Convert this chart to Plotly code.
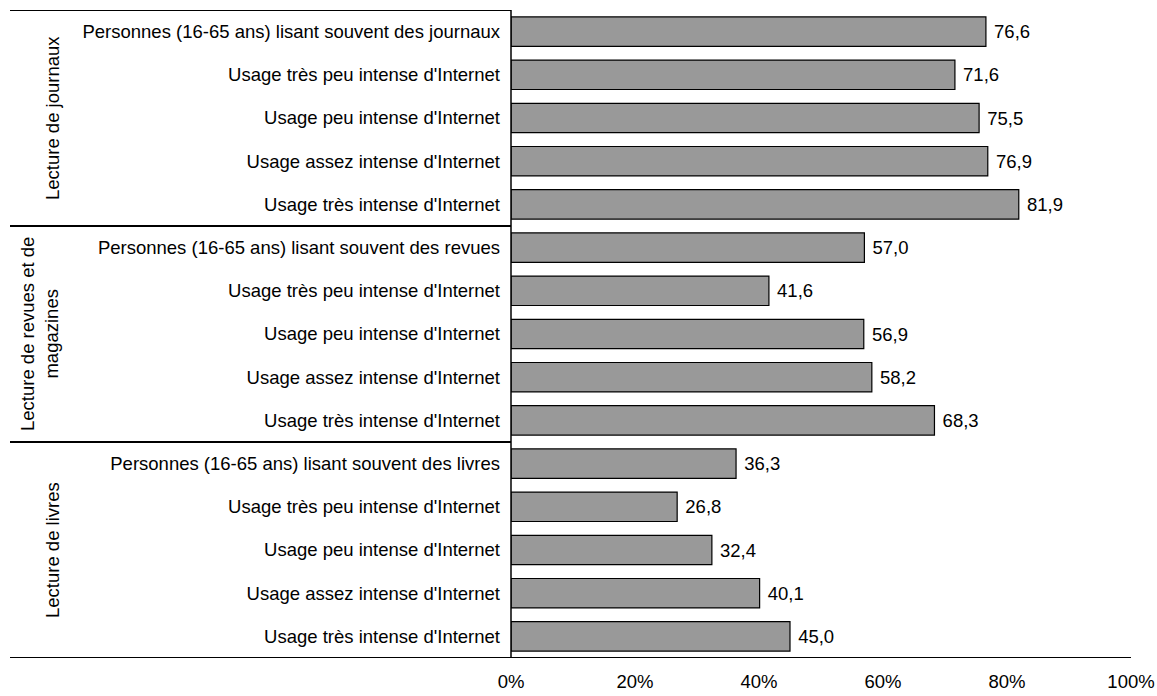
import plotly.graph_objects as go

# Row labels, top to bottom
categories = [
    "Personnes (16-65 ans) lisant souvent des journaux",
    "Usage très peu intense d'Internet",
    "Usage peu intense d'Internet",
    "Usage assez intense d'Internet",
    "Usage très intense d'Internet",
    "Personnes (16-65 ans) lisant souvent des revues",
    "Usage très peu intense d'Internet",
    "Usage peu intense d'Internet",
    "Usage assez intense d'Internet",
    "Usage très intense d'Internet",
    "Personnes (16-65 ans) lisant souvent des livres",
    "Usage très peu intense d'Internet",
    "Usage peu intense d'Internet",
    "Usage assez intense d'Internet",
    "Usage très intense d'Internet",
]
values = [76.6, 71.6, 75.5, 76.9, 81.9,
          57.0, 41.6, 56.9, 58.2, 68.3,
          36.3, 26.8, 32.4, 40.1, 45.0]
group_labels = ["Lecture de journaux",
                "Lecture de revues et de<br>magazines",
                "Lecture de livres"]
group_size = 5
x_ticks = [0, 20, 40, 60, 80, 100]

FONT = "Liberation Sans, Arial, sans-serif"
FS = 18.5

idx = list(range(len(categories)))

fig = go.Figure(go.Bar(
    x=values,
    y=idx,
    orientation="h",
    width=0.68,
    marker=dict(color="#999999", line=dict(color="#000000", width=1.2)),
    text=values,
    texttemplate=" %{x:.1f}",
    textposition="outside",
    textfont=dict(size=FS, color="#000000", family=FONT),
    cliponaxis=False,
))

W, H = 1157, 696
left, right, top, bottom = 511, 26, 10, 38
plot_w = W - left - right
outer_x = (10 - left) / plot_w  # left edge of the grouping frame in paper units

shapes = []
# frame: top line, group separators and bottom line
for yb in [-0.5, 4.5, 9.5]:
    shapes.append(dict(type="line", xref="paper", yref="y", x0=outer_x, x1=0,
                       y0=yb, y1=yb, line=dict(color="#000000", width=2)))
shapes.append(dict(type="line", xref="paper", yref="y", x0=outer_x, x1=1,
                   y0=14.5, y1=14.5, line=dict(color="#000000", width=2)))
shapes.append(dict(type="line", xref="paper", yref="y", x0=0, x1=0,
                   y0=-0.5, y1=14.5, line=dict(color="#000000", width=1.5)))

annotations = []
group_x = [(52 - left) / plot_w, (39 - left) / plot_w, (52 - left) / plot_w]
for g, lab in enumerate(group_labels):
    yc = g * group_size + (group_size - 1) / 2
    annotations.append(dict(
        text=lab, xref="paper", yref="y", x=group_x[g], y=yc,
        textangle=-90, showarrow=False, xanchor="center", yanchor="middle",
        font=dict(size=FS, color="#000000", family=FONT),
    ))

fig.update_layout(
    width=W, height=H,
    margin=dict(l=left, r=right, t=top, b=bottom, autoexpand=False),
    plot_bgcolor="#ffffff",
    paper_bgcolor="#ffffff",
    separators=", ",
    showlegend=False,
    shapes=shapes,
    annotations=annotations,
    font=dict(family=FONT, size=FS, color="#000000"),
    xaxis=dict(
        range=[0, 100],
        tickvals=x_ticks,
        ticktext=[f"{v}%" for v in x_ticks],
        showgrid=False, zeroline=False, showline=False,
        ticks="", ticklabelstandoff=10,
        tickfont=dict(size=FS, family=FONT, color="#000000"),
        automargin=False,
        fixedrange=True,
    ),
    yaxis=dict(
        range=[14.5, -0.5],
        tickvals=idx,
        ticktext=categories,
        showgrid=False, zeroline=False, showline=False,
        ticks="", ticklabelstandoff=10,
        tickfont=dict(size=FS, family=FONT, color="#000000"),
        automargin=False,
        fixedrange=True,
    ),
)

fig.write_html("out.html")
